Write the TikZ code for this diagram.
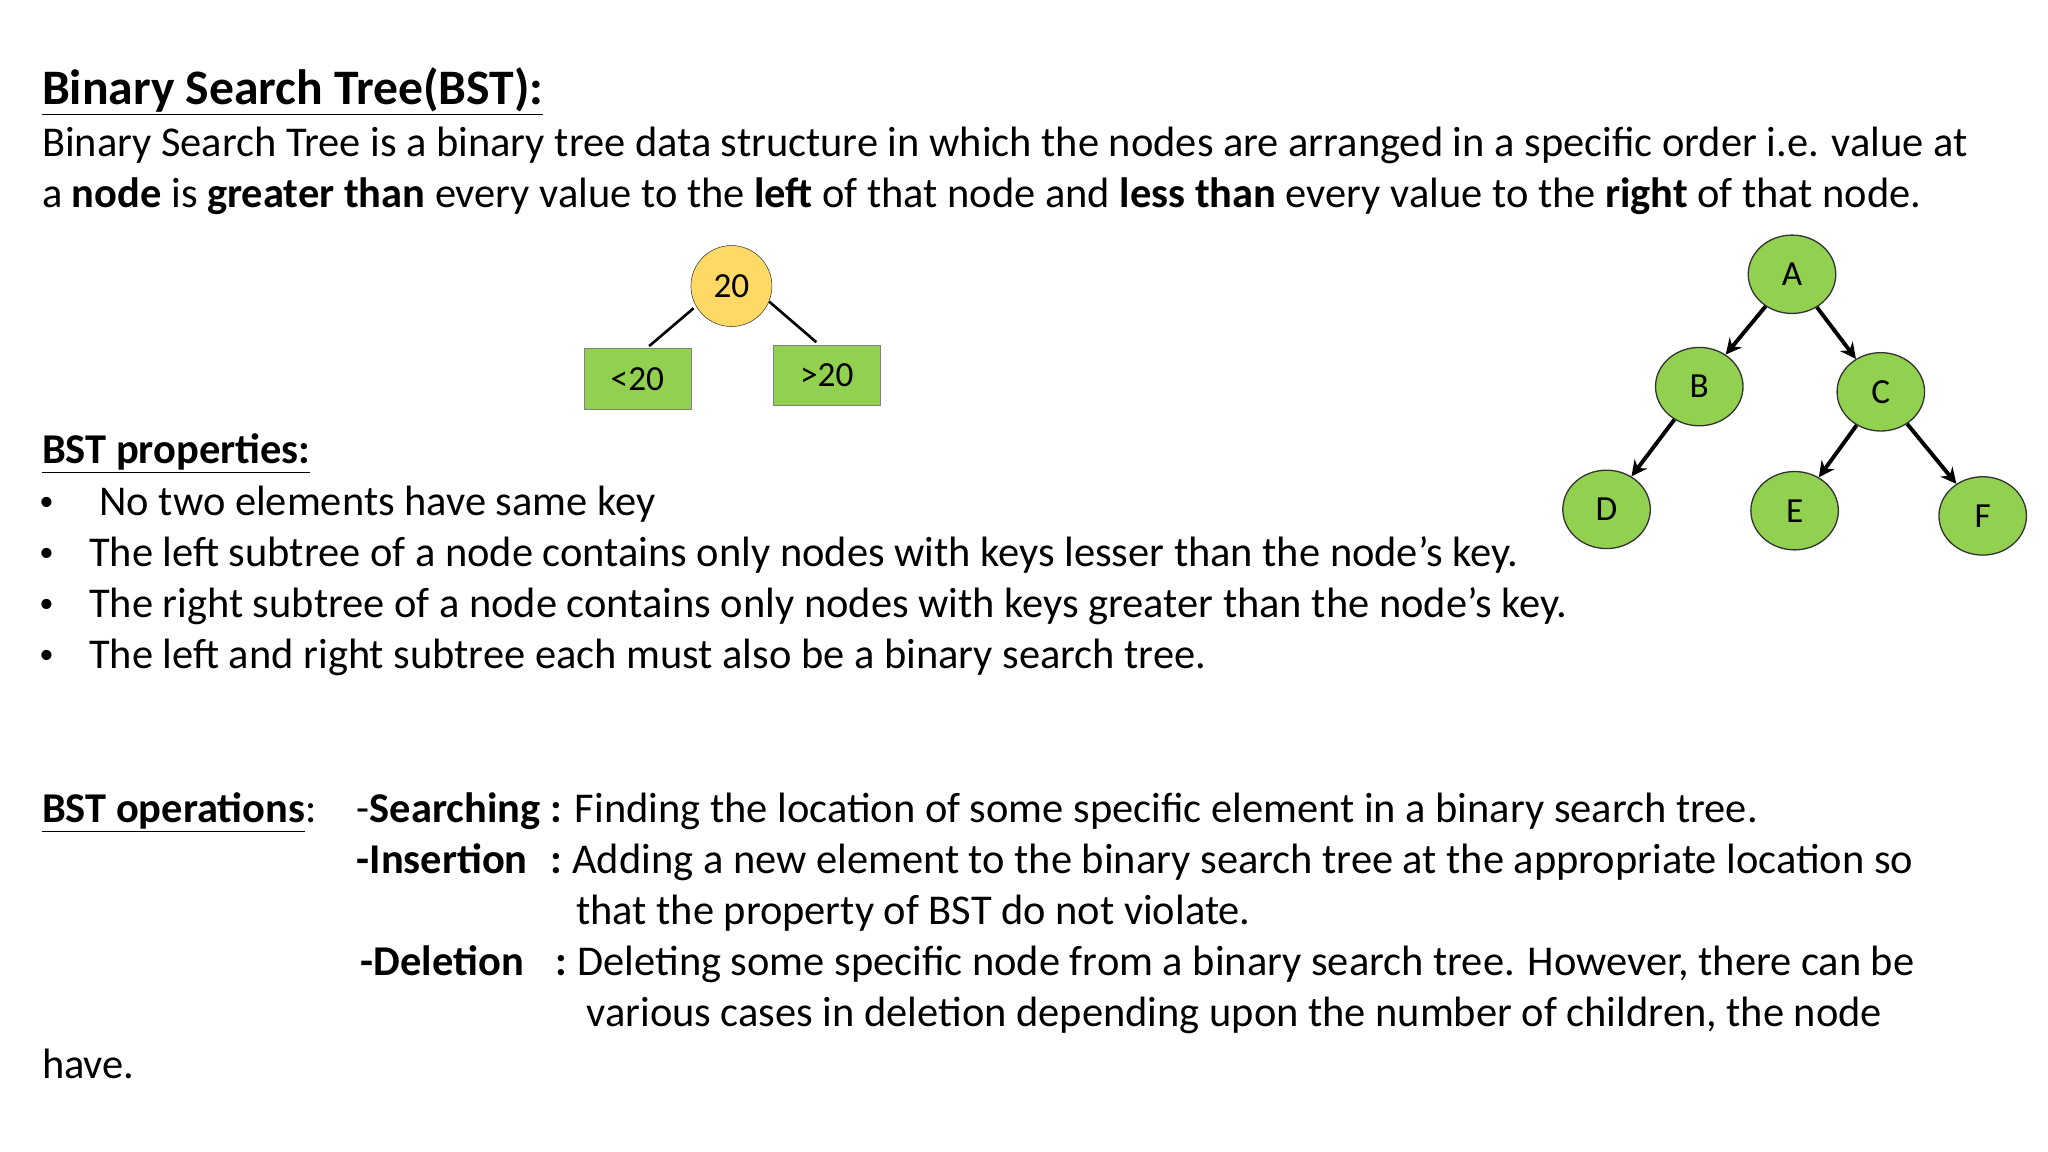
\documentclass[tikz,border=0pt]{standalone}
\usepackage{fontspec}
\setmainfont{Carlito}
\usetikzlibrary{arrows.meta,shapes.geometric}
\definecolor{ylw}{HTML}{FFD966}
\definecolor{grn}{HTML}{92D050}
\begin{document}
\begin{tikzpicture}[x=1pt,y=-1pt,
  txt/.style={anchor=base west,inner sep=0pt,font=\fontsize{32.5}{38}\selectfont},
  ttl/.style={anchor=base west,inner sep=0pt,font=\fontsize{38}{44}\selectfont\bfseries},
  tnode/.style={ellipse,draw=black!80,line width=1pt,fill=grn,minimum width=67pt,minimum height=60pt,inner sep=0pt,font=\fontsize{27}{30}\selectfont},
  box/.style={draw=black!50,fill=grn,minimum width=82pt,minimum height=46pt,inner sep=0pt,font=\fontsize{27}{30}\selectfont},
  arr/.style={line width=3pt,-{Stealth[length=12pt,width=12pt]}}]
\useasboundingbox (0,0) rectangle (1568,882);
\fill[white] (0,0) rectangle (1568,882);
\node[ttl] (t) at (32,80) {\underline{Binary Search Tree(BST):}};
\node[txt] (l1) at (32,120) {Binary Search Tree is a binary tree data structure in which the nodes are arranged in a specific order i.e. value at};
\node[txt] (l2) at (32,159) {a \textbf{node} is \textbf{greater than} every value to the \textbf{left} of that node and \textbf{less than} every value to the \textbf{right} of that node.};
% small tree
\node[circle,draw=black!80,fill=ylw,minimum size=62pt,inner sep=0pt,font=\fontsize{27}{30}\selectfont] (r) at (560,219) {20};
\node[box] (lt) at (488,290) {<20};
\node[box] (gt) at (633,287) {>20};
\coordinate (la) at (497,265); \coordinate (lb) at (531,236);
\coordinate (ra) at (589,231); \coordinate (rb) at (625,262);
\draw[line width=2pt] (la) -- (lb);
\draw[line width=2pt] (ra) -- (rb);
% big tree
\node[tnode] (A) at (1372,210) {A};
\node[tnode] (B) at (1301,296) {B};
\node[tnode] (C) at (1440,300) {C};
\node[tnode] (D) at (1230,390) {D};
\node[tnode] (E) at (1374,391) {E};
\node[tnode] (F) at (1518,395) {F};
\draw[arr] (A) -- (B);
\draw[arr] (A) -- (C);
\draw[arr] (B) -- (D);
\draw[arr] (C) -- (E);
\draw[arr] (C) -- (F);
% properties
\node[txt,font=\fontsize{32.5}{38}\selectfont\bfseries] (p) at (32,355) {\underline{BST properties:}};
\foreach \y/\x/\s [count=\i] in {395/76/No two elements have same key,
  434/68/The left subtree of a node contains only nodes with keys lesser than the node’s key.,
  473/68/The right subtree of a node contains only nodes with keys greater than the node’s key.,
  512/68/The left and right subtree each must also be a binary search tree.}{
  \node[txt,font=\fontsize{22}{26}\selectfont] (b\i) at (30,\y-4) {•};
  \node[txt] (pt\i) at (\x,\y) {\s};
}
% operations
\node[txt] (o) at (32,630) {\textbf{\underline{BST operations}}:};
\node[txt] (o1) at (273,630) {-\textbf{Searching :}};
\node[txt] (o1b) at (440,630) {Finding the location of some specific element in a binary search tree.};
\node[txt] (o2) at (273,669) {\textbf{-Insertion}};
\node[txt] (o2c) at (421,669) {\textbf{:}};
\node[txt] (o2b) at (438,669) {Adding a new element to the binary search tree at the appropriate location so};
\node[txt] (o3) at (441,708) {that the property of BST do not violate.};
\node[txt] (o4) at (276,747) {\textbf{-Deletion}};
\node[txt] (o4c) at (425,747) {\textbf{:}};
\node[txt] (o4b) at (442,747) {Deleting some specific node from a binary search tree. However, there can be};
\node[txt] (o5) at (449,786) {various cases in deletion depending upon the number of children, the node};
\node[txt] (o6) at (32,826) {have.};
\end{tikzpicture}
\end{document}
